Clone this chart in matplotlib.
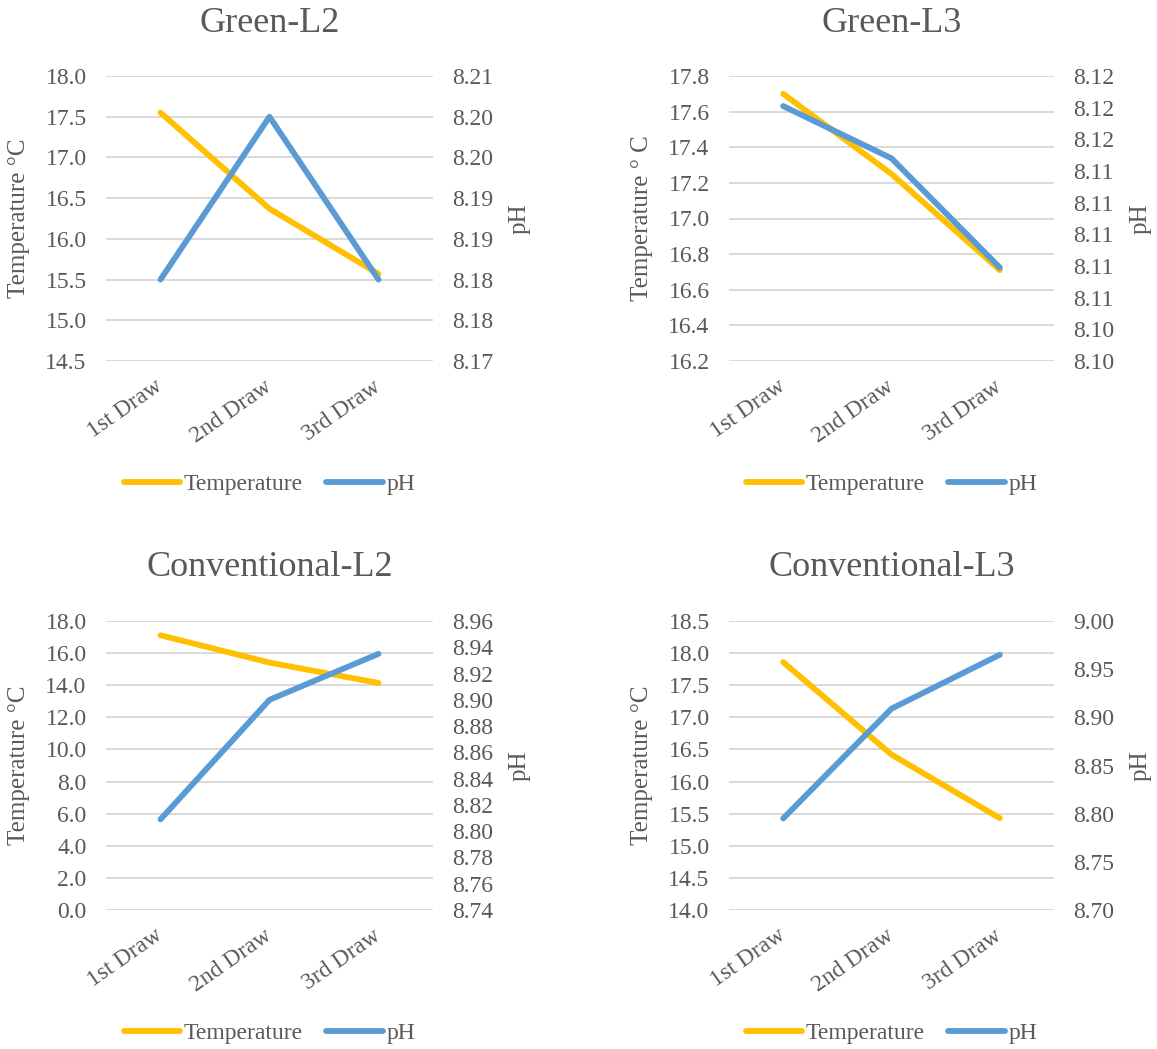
import matplotlib
matplotlib.use("Agg")
import matplotlib.pyplot as plt

plt.rcParams['font.family'] = ['Liberation Serif', 'DejaVu Serif']

# categories shared by all four panels
categories = ["1st Draw", "2nd Draw", "3rd Draw"]

# Green-L2
temp_green_l2 = [17.55, 16.37, 15.57]
ph_green_l2 = [8.180, 8.200, 8.180]
temp_ticks_green_l2 = [14.5, 15.0, 15.5, 16.0, 16.5, 17.0, 17.5, 18.0]
ph_ticks_green_l2 = [8.170, 8.175, 8.180, 8.185, 8.190, 8.195, 8.200, 8.205]
ph_labels_green_l2 = ["8.17", "8.18", "8.18", "8.19", "8.19", "8.20", "8.20", "8.21"]

# Green-L3
temp_green_l3 = [17.70, 17.25, 16.71]
ph_green_l3 = [8.1181, 8.1148, 8.1079]
temp_ticks_green_l3 = [16.2, 16.4, 16.6, 16.8, 17.0, 17.2, 17.4, 17.6, 17.8]
ph_ticks_green_l3 = [8.102, 8.104, 8.106, 8.108, 8.110, 8.112, 8.114, 8.116, 8.118, 8.120]
ph_labels_green_l3 = ["8.10", "8.10", "8.11", "8.11", "8.11", "8.11", "8.11",
                      "8.12", "8.12", "8.12"]

# Conventional-L2
temp_conv_l2 = [17.11, 15.41, 14.14]
ph_conv_l2 = [8.809, 8.900, 8.935]
temp_ticks_conv_l2 = [0.0, 2.0, 4.0, 6.0, 8.0, 10.0, 12.0, 14.0, 16.0, 18.0]
ph_ticks_conv_l2 = [8.74, 8.76, 8.78, 8.80, 8.82, 8.84, 8.86, 8.88, 8.90, 8.92, 8.94, 8.96]
ph_labels_conv_l2 = ["%.2f" % v for v in ph_ticks_conv_l2]

# Conventional-L3
temp_conv_l3 = [17.86, 16.42, 15.43]
ph_conv_l3 = [8.795, 8.909, 8.965]
temp_ticks_conv_l3 = [14.0, 14.5, 15.0, 15.5, 16.0, 16.5, 17.0, 17.5, 18.0, 18.5]
ph_ticks_conv_l3 = [8.70, 8.75, 8.80, 8.85, 8.90, 8.95, 9.00]
ph_labels_conv_l3 = ["%.2f" % v for v in ph_ticks_conv_l3]

TEMP_COLOR = "#FFC000"
PH_COLOR = "#5B9BD5"
GRID_COLOR = "#D9D9D9"
TEXT_COLOR = "#595959"

W, H = 1157, 1049
fig = plt.figure(figsize=(W / 100, H / 100), dpi=100)


def rect(x0, y0, x1, y1):
    # pixel box (top-left origin) -> figure fraction
    return [x0 / W, 1 - y1 / H, (x1 - x0) / W, (y1 - y0) / H]


def panel(box, title, temp, ph, temp_ticks, ph_ticks, ph_labels, temp_label, legend_y):
    x0, y0, x1, y1 = box
    ax = fig.add_axes(rect(*box))
    ax2 = ax.twinx()
    xs = range(len(categories))

    ax.plot(xs, temp, color=TEMP_COLOR, lw=4.2, solid_capstyle="round",
            solid_joinstyle="round", label="Temperature")
    ax2.plot(xs, ph, color=PH_COLOR, lw=4.2, solid_capstyle="round",
             solid_joinstyle="round", label="pH")

    ax.set_xlim(-0.5, len(categories) - 0.5)
    ax.set_ylim(temp_ticks[0], temp_ticks[-1])
    ax.set_yticks(temp_ticks)
    ax.set_yticklabels(["%.1f" % v for v in temp_ticks])
    ax2.set_ylim(ph_ticks[0], ph_ticks[-1])
    ax2.set_yticks(ph_ticks)
    ax2.set_yticklabels(ph_labels)

    ax.set_xticks(list(xs))
    ax.set_xticklabels(categories, rotation=35, ha="right", va="center",
                       rotation_mode="anchor")

    ax.yaxis.grid(True, color=GRID_COLOR, lw=1.4)
    ax.set_axisbelow(True)
    for a in (ax, ax2):
        for s in a.spines.values():
            s.set_visible(False)
        a.tick_params(length=0, labelsize=17, labelcolor=TEXT_COLOR, pad=14)
    ax.tick_params(axis="x", pad=17)

    yc = 1 - (y0 + y1) / 2 / H
    ax.set_ylabel(temp_label, fontsize=18, color=TEXT_COLOR)
    ax.yaxis.set_label_coords((x0 - 76) / W, yc, transform=fig.transFigure)
    ax2.set_ylabel("pH", fontsize=18, color=TEXT_COLOR)
    ax2.yaxis.set_label_coords((x1 + 76) / W, yc, transform=fig.transFigure)

    fig.text((x0 + x1) / 2 / W, 1 - (y0 - 53) / H, title, fontsize=26,
             color=TEXT_COLOR, ha="center", va="center")

    handles = ax.get_lines() + ax2.get_lines()
    fig.legend(handles, [h.get_label() for h in handles], loc="center",
               bbox_to_anchor=((x0 + x1) / 2 / W, 1 - legend_y / H), ncol=2,
               frameon=False, fontsize=17, handlelength=2.4, handletextpad=0.15,
               columnspacing=1.0, labelcolor=TEXT_COLOR)


panel((106, 76, 433, 361), "Green-L2", temp_green_l2, ph_green_l2,
      temp_ticks_green_l2, ph_ticks_green_l2, ph_labels_green_l2,
      "Temperature °C", 484)
panel((729, 76, 1054, 361), "Green-L3", temp_green_l3, ph_green_l3,
      temp_ticks_green_l3, ph_ticks_green_l3, ph_labels_green_l3,
      "Temperature ° C", 484)
panel((106, 621, 433, 910), "Conventional-L2", temp_conv_l2, ph_conv_l2,
      temp_ticks_conv_l2, ph_ticks_conv_l2, ph_labels_conv_l2,
      "Temperature °C", 1033)
panel((729, 621, 1054, 910), "Conventional-L3", temp_conv_l3, ph_conv_l3,
      temp_ticks_conv_l3, ph_ticks_conv_l3, ph_labels_conv_l3,
      "Temperature °C", 1033)

fig.savefig("out.png", dpi=100, facecolor="white")
